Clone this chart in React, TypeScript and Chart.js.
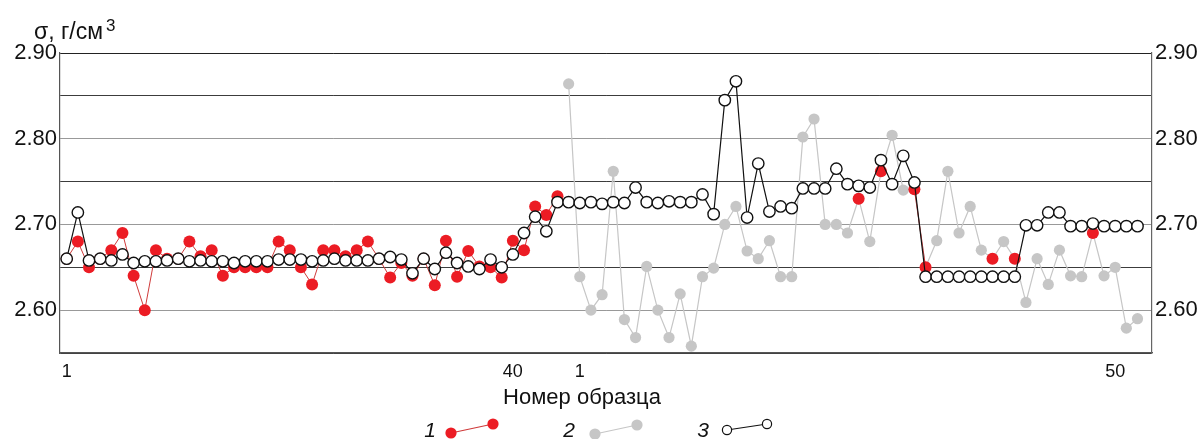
import React, { useEffect, useRef } from "react";
import { Chart, registerables } from "chart.js";

Chart.register(...registerables);

// Series 3: open circles, black line (all samples, both groups)
const series3Values = [
  2.660, 2.714, 2.658, 2.660, 2.658, 2.665, 2.655, 2.657, 2.657, 2.658,
  2.660, 2.657, 2.658, 2.657, 2.657, 2.655, 2.657, 2.657, 2.657, 2.659,
  2.659, 2.659, 2.657, 2.658, 2.660, 2.658, 2.658, 2.658, 2.660, 2.662,
  2.659, 2.643, 2.660, 2.648, 2.667, 2.655, 2.651, 2.648, 2.659, 2.650,
  2.665, 2.690, 2.709, 2.692, 2.726,
  2.726, 2.725, 2.726, 2.724, 2.726, 2.725, 2.743, 2.726, 2.725, 2.727,
  2.726, 2.726, 2.735, 2.712, 2.845, 2.867, 2.708, 2.771, 2.715, 2.721,
  2.719, 2.742, 2.742, 2.742, 2.765, 2.747, 2.745, 2.743, 2.775, 2.747,
  2.780, 2.749, 2.639, 2.639, 2.639, 2.639, 2.639, 2.639, 2.639, 2.639,
  2.639, 2.699, 2.699, 2.714, 2.714, 2.698, 2.698, 2.701, 2.698, 2.698,
  2.698, 2.698,
];

// Series 1: red points (null = no measurement)
const series1Values = [
  2.66, 2.68, 2.65, 2.66, 2.67, 2.69, 2.64, 2.60, 2.67, 2.66,
  2.66, 2.68, 2.663, 2.67, 2.64, 2.65, 2.65, 2.65, 2.65, 2.68,
  2.67, 2.65, 2.63, 2.67, 2.67, 2.663, 2.67, 2.68, 2.66, 2.638,
  2.655, 2.64, 2.66, 2.629, 2.681, 2.639, 2.669, 2.651, 2.65, 2.638,
  2.681, 2.670, 2.721, 2.711, 2.733,
  null, null, null, null, null, null, null, null, null, null,
  null, null, null, null, null, null, null, null, null, null,
  null, null, null, null, null, null, 2.730, null, 2.762, null,
  null, 2.741, 2.650, null, null, null, null, null, 2.660, null,
  2.660, null, null, null, null, null, null, 2.690, null, null,
  null, null,
];

// Series 2: grey points (second group only)
const series2Values = [
  null, null, null, null, null, null, null, null, null, null,
  null, null, null, null, null, null, null, null, null, null,
  null, null, null, null, null, null, null, null, null, null,
  null, null, null, null, null, null, null, null, null, null,
  null, null, null, null, null,
  2.864, 2.639, 2.600, 2.618, 2.762, 2.589, 2.568, 2.651, 2.600, 2.568,
  2.619, 2.558, 2.639, 2.649, 2.700, 2.721, 2.669, 2.660, 2.681, 2.639,
  2.639, 2.802, 2.823, 2.700, 2.700, 2.690, 2.730, 2.680, 2.762, 2.804,
  2.740, 2.741, 2.650, 2.681, 2.762, 2.690, 2.721, 2.670, 2.660, 2.680,
  2.660, 2.609, 2.660, 2.630, 2.670, 2.640, 2.639, 2.690, 2.640, 2.650,
  2.579, 2.590,
];

// X tick labels (sample numbers) and the sample index they sit at
const xTickLabels = ["1", "40", "1", "50"];
const xTickIndex = [0, 40, 46, 94];
const yTickLabels = ["2.60", "2.70", "2.80", "2.90"];

const yTitle = "σ, г/см";
const yTitleSup = "3";
const xTitle = "Номер образца";
const legendLabels = ["1", "2", "3"];

const RED = "#ec1c24";
const RED_LINE = "#cf3a3a";
const GREY = "#c6c6c6";
const FONT = "'Liberation Sans', Arial, sans-serif";

const toPoints = (arr: (number | null)[]) => arr.map((v, i) => ({ x: i, y: v }));

export default function App() {
  const ref = useRef<HTMLCanvasElement | null>(null);

  useEffect(() => {
    if (!ref.current) return;

    const textPlugin = {
      id: "extraText",
      afterDraw(chart: any) {
        const ctx = chart.ctx as CanvasRenderingContext2D;
        ctx.save();
        ctx.fillStyle = "#111";
        // y title
        ctx.font = `23px ${FONT}`;
        ctx.textAlign = "left";
        ctx.textBaseline = "alphabetic";
        ctx.fillText(yTitle, 34, 39);
        const w = ctx.measureText(yTitle).width;
        ctx.font = `17px ${FONT}`;
        ctx.fillText(yTitleSup, 34 + w + 3, 31);
        // x title
        ctx.font = `22px ${FONT}`;
        ctx.textAlign = "center";
        ctx.textBaseline = "middle";
        ctx.fillText(xTitle, 582, 398);

        // legend
        ctx.font = `italic 21px ${FONT}`;
        const items = [
          { tx: 430, p1: [451, 433], p2: [493, 424], kind: 0 },
          { tx: 569, p1: [595, 434], p2: [637, 425], kind: 1 },
          { tx: 703, p1: [727, 430], p2: [767, 424], kind: 2 },
        ];
        items.forEach((it, k) => {
          ctx.fillStyle = "#111";
          ctx.fillText(legendLabels[k], it.tx, 431);
          ctx.beginPath();
          ctx.moveTo(it.p1[0], it.p1[1]);
          ctx.lineTo(it.p2[0], it.p2[1]);
          ctx.lineWidth = 1.2;
          ctx.strokeStyle = it.kind === 0 ? RED_LINE : it.kind === 1 ? GREY : "#111";
          ctx.stroke();
          [it.p1, it.p2].forEach((p) => {
            ctx.beginPath();
            if (it.kind === 2) {
              ctx.arc(p[0], p[1], 4.6, 0, Math.PI * 2);
              ctx.fillStyle = "#fff";
              ctx.fill();
              ctx.lineWidth = 1.2;
              ctx.strokeStyle = "#111";
              ctx.stroke();
            } else {
              ctx.arc(p[0], p[1], 5.6, 0, Math.PI * 2);
              ctx.fillStyle = it.kind === 0 ? RED : GREY;
              ctx.fill();
            }
          });
        });
        ctx.restore();
      },
    };

    const yTickCb = (v: any) => {
      const s = Number(v).toFixed(2);
      return yTickLabels.includes(s) ? s : "";
    };

    const chart = new Chart(ref.current, {
      type: "line",
      data: {
        datasets: [
          {
            label: "3",
            data: toPoints(series3Values),
            borderColor: "#111",
            borderWidth: 1.2,
            pointRadius: 5.7,
            pointBorderWidth: 1.4,
            pointBackgroundColor: "#fff",
            pointBorderColor: "#111",
            tension: 0,
          },
          {
            label: "1",
            data: toPoints(series1Values),
            borderColor: RED_LINE,
            borderWidth: 1,
            pointRadius: 6,
            pointBorderWidth: 0,
            pointBackgroundColor: RED,
            pointBorderColor: RED,
            spanGaps: false,
            tension: 0,
          },
          {
            label: "2",
            data: toPoints(series2Values),
            borderColor: GREY,
            borderWidth: 1.2,
            pointRadius: 5.6,
            pointBorderWidth: 0,
            pointBackgroundColor: GREY,
            pointBorderColor: GREY,
            spanGaps: false,
            tension: 0,
          },
        ],
      },
      options: {
        animation: false,
        responsive: false,
        events: [],
        layout: { padding: { top: 53, left: 0, right: 0, bottom: 0 } },
        plugins: {
          legend: { display: false },
          tooltip: { enabled: false },
        },
        scales: {
          x: {
            type: "linear",
            min: -0.6,
            max: 97.3,
            grid: { display: false, drawTicks: false },
            border: { display: true, color: "#555", width: 1.2 },
            afterBuildTicks: (scale: any) => {
              scale.ticks = xTickIndex.map((v) => ({ value: v }));
            },
            afterFit: (scale: any) => {
              scale.height = 86;
            },
            ticks: {
              autoSkip: false,
              maxRotation: 0,
              padding: 8,
              color: "#111",
              font: { family: FONT, size: 18 },
              callback: (v: any) => {
                const k = xTickIndex.indexOf(Number(v));
                return k >= 0 ? xTickLabels[k] : "";
              },
            },
          },
          y: {
            position: "left",
            min: 2.55,
            max: 2.9,
            ticks: {
              stepSize: 0.05,
              padding: 3,
              color: "#111",
              font: { family: FONT, size: 22 },
              callback: yTickCb,
            },
            afterFit: (scale: any) => {
              scale.width = 60;
            },
            border: { display: true, color: "#555", width: 1.2 },
            grid: {
              drawTicks: false,
              lineWidth: 1,
              color: (c: any) => {
                const r = Math.round((c.tick?.value ?? 0) * 100);
                if (r === 290) return "#222";
                return r % 10 === 5 ? "#3c3c3c" : "#999";
              },
            },
          },
          y2: {
            position: "right",
            min: 2.55,
            max: 2.9,
            ticks: {
              stepSize: 0.05,
              padding: 3,
              color: "#111",
              font: { family: FONT, size: 22 },
              callback: yTickCb,
            },
            afterFit: (scale: any) => {
              scale.width = 51;
            },
            border: { display: true, color: "#666", width: 1.2 },
            grid: { display: false, drawTicks: false },
          },
        },
      },
      plugins: [textPlugin],
    } as any);

    return () => chart.destroy();
  }, []);

  return (
    <div style={{ position: "absolute", left: 0, top: 0, width: 1203, height: 439, background: "#fff" }}>
      <canvas ref={ref} width={1203} height={439} style={{ display: "block" }} />
    </div>
  );
}
